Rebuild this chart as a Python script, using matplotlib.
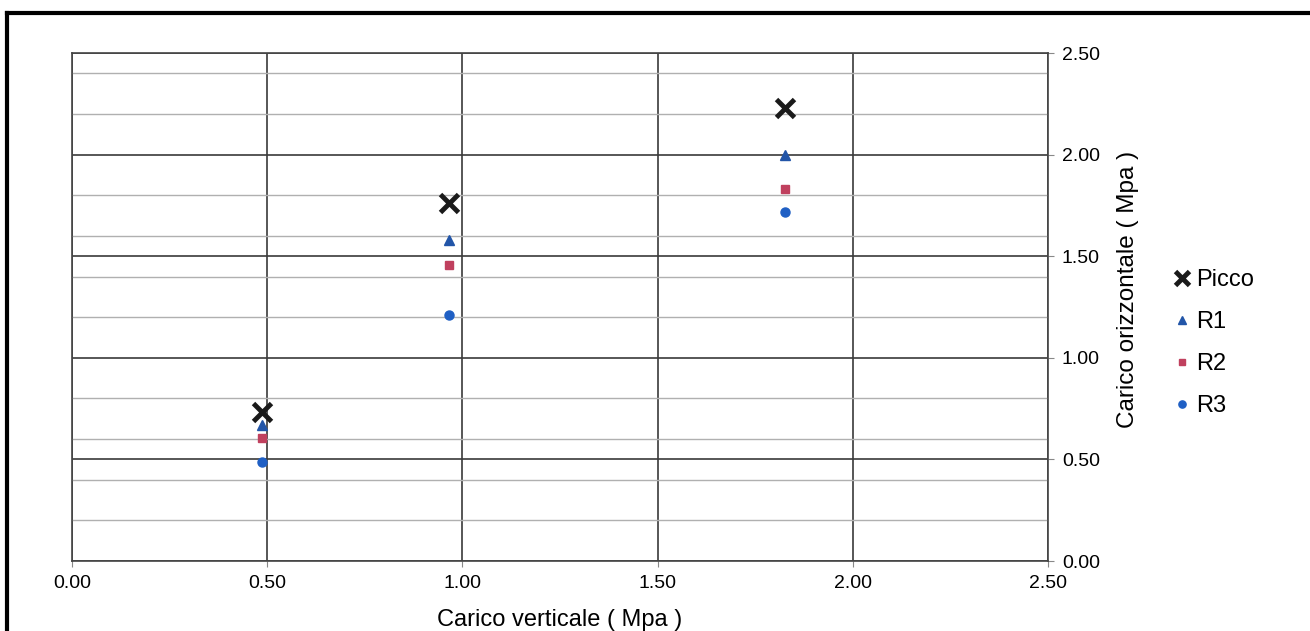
import numpy as np
import matplotlib.pyplot as plt
from matplotlib.lines import Line2D
from matplotlib.ticker import MultipleLocator

plt.rcParams['font.family'] = ['Liberation Sans', 'DejaVu Sans']

# carico verticale (MPa)
x_load = [0.487, 0.966, 1.826]
# carico orizzontale (MPa)
picco = [0.733, 1.762, 2.229]
r1 = [0.669, 1.580, 2.000]
r2 = [0.605, 1.457, 1.830]
r3 = [0.487, 1.210, 1.717]

fig = plt.figure(figsize=(13.1, 6.31), dpi=100)
ax = fig.add_axes([72/1310, 1-561/631, (1048-72)/1310, (561-53)/631])

ax.plot(x_load, picco, 'x', color='#1a1a1a', ms=13, mew=3.5, label='Picco', zorder=5)
ax.plot(x_load, r1, '^', color='#2255a8', ms=6.5, label='R1', zorder=5)
ax.plot(x_load, r2, 's', color='#c0405e', ms=6, label='R2', zorder=5)
ax.plot(x_load, r3, 'o', color='#1f5fc4', ms=6.5, label='R3', zorder=5)

ax.set_xlim(0, 2.5)
ax.set_ylim(0, 2.5)
ax.xaxis.set_major_locator(MultipleLocator(0.5))
ax.yaxis.set_major_locator(MultipleLocator(0.5))
ax.yaxis.set_minor_locator(MultipleLocator(0.2))
ax.grid(which='major', color='#3a3a3a', lw=1.2)
ax.grid(which='minor', axis='y', color='#b0b0b0', lw=1.0)
ax.set_axisbelow(True)

ax.yaxis.tick_right()
ax.yaxis.set_label_position('right')
ax.xaxis.set_major_formatter(lambda v, p: f'{v:.2f}')
ax.yaxis.set_major_formatter(lambda v, p: f'{v:.2f}')
ax.tick_params(which='major', length=4, color='#888888', labelsize=14, pad=6)
ax.tick_params(which='minor', length=0)
for s in ax.spines.values():
    s.set_color('#444444')
    s.set_linewidth(1.2)

ax.set_xlabel('Carico verticale ( Mpa )', fontsize=17, labelpad=12)
ax.set_ylabel('Carico orizzontale ( Mpa )', fontsize=17.5, labelpad=12)
ax.yaxis.set_label_coords(1.071, 0.535)

leg = fig.legend(loc='center left', bbox_to_anchor=(1149/1310, 1-343/631), frameon=False,
                 fontsize=17, handletextpad=0.1, labelspacing=0.85, handlelength=1.0,
                 markerscale=0.8)

# outer frame of the scanned chart
fig.add_artist(Line2D([7/1310, 1], [1-13/631, 1-13/631], color='black', lw=3, transform=fig.transFigure))
fig.add_artist(Line2D([7/1310, 7/1310], [0, 1-13/631], color='black', lw=3, transform=fig.transFigure))

fig.savefig('out.png', dpi=100)
